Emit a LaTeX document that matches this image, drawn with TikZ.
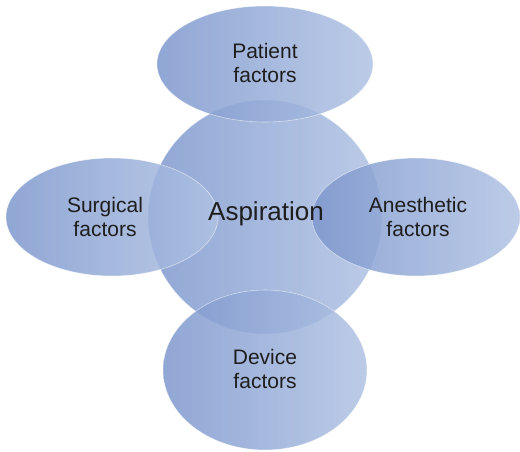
\documentclass[tikz,border=0pt]{standalone}
\usepackage{fontspec}
\setmainfont{Liberation Sans}
\usetikzlibrary{shapes.geometric}
\definecolor{bubbleL}{RGB}{125,151,205}
\definecolor{bubbleR}{RGB}{176,194,227}
\definecolor{inktext}{RGB}{30,30,30}
\tikzset{
  bubble/.style={ellipse, inner sep=0pt, left color=bubbleL, right color=bubbleR,
    fill opacity=0.85, draw=white, draw opacity=0.55, line width=0.6pt},
  lbl/.style={align=center, text=inktext, font=\fontsize{21}{24.5}\selectfont},
  hub/.style={text=inktext, font=\fontsize{26}{30}\selectfont}
}
\begin{document}
\begin{tikzpicture}[x=1pt, y=-1pt]
  \useasboundingbox (0,0) rectangle (520,451);
  % central circle
  \node[bubble, minimum width=234pt, minimum height=234pt] (core) at (265,217) {};
  % four factor ellipses
  \node[bubble, minimum width=216pt, minimum height=116pt] (pat) at (265,64) {};
  \node[bubble, minimum width=212pt, minimum height=118pt] (sur) at (112,217) {};
  \node[bubble, minimum width=208pt, minimum height=118pt] (ane) at (416,217) {};
  \node[bubble, minimum width=204pt, minimum height=160pt] (dev) at (265,370) {};
  % labels
  \node[hub] (coreT) at (266,214) {Aspiration};
  \node[lbl] (patT) at (265,63) {Patient\\factors};
  \node[lbl] (surT) at (105,217) {Surgical\\factors};
  \node[lbl] (aneT) at (418,217) {Anesthetic\\factors};
  \node[lbl] (devT) at (265,369) {Device\\factors};
\end{tikzpicture}
\end{document}
